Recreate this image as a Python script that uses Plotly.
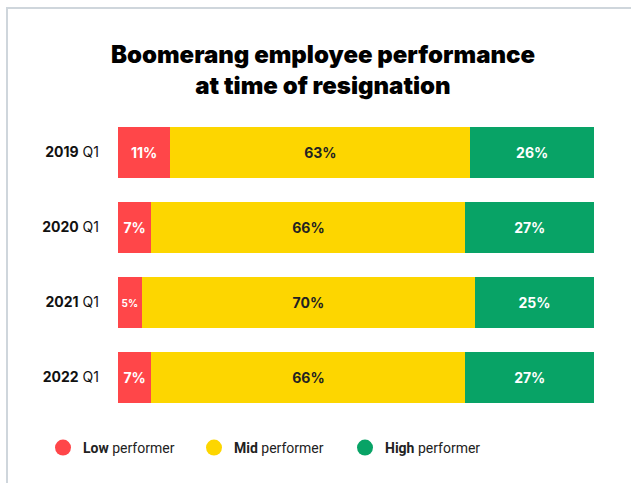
import plotly.graph_objects as go

years = ["2019", "2020", "2021", "2022"]
quarters = ["Q1", "Q1", "Q1", "Q1"]
low = [11, 7, 5, 7]
mid = [63, 66, 70, 66]
high = [26, 27, 25, 27]
series_names = ["Low", "Mid", "High"]
colors = ["#FF4649", "#FDD600", "#08A366"]

cats = [f"{y} {q}" for y, q in zip(years, quarters)]
ticktext = [f"<b>{y}</b> {q}" for y, q in zip(years, quarters)]

W, H = 631, 483
ML, MR, MT, MB = 118, 37, 115, 68
PW, PH = W - ML - MR, H - MT - MB

fig = go.Figure()
label_colors = ["#FFFFFF", "#222222", "#FFFFFF"]
for name, vals, col, lc in zip(series_names, [low, mid, high], colors, label_colors):
    sizes = [10 if v <= 5 else 14 for v in vals]
    fig.add_trace(go.Bar(
        y=cats, x=vals, orientation="h", name=name,
        marker=dict(color=col, line=dict(width=0)),
        text=[f"{v}%" for v in vals], textposition="inside",
        insidetextanchor="middle", textangle=0, constraintext="none",
        textfont=dict(family="Inter", size=sizes, color=lc, weight=700),
        showlegend=False, hoverinfo="skip", width=0.68,
    ))

for name, col in zip(series_names, colors):
    fig.add_trace(go.Scatter(
        x=[None], y=[None], mode="markers", name=f"<b>{name}</b> performer",
        marker=dict(color=col, size=16, symbol="circle"), hoverinfo="skip",
    ))

def px_x(px):
    return (px - ML) / PW

def px_y(py):
    return (H - MB - py) / PH

fig.add_shape(type="rect", xref="paper", yref="paper",
              x0=px_x(7), x1=px_x(660), y0=px_y(510), y1=px_y(8),
              line=dict(color="#CFD6DC", width=2), fillcolor="rgba(0,0,0,0)", layer="below")

fig.update_layout(
    width=W, height=H,
    margin=dict(l=ML, r=MR, t=MT, b=MB, pad=0),
    paper_bgcolor="white", plot_bgcolor="white",
    barmode="stack", bargap=0.32,
    title=dict(text="Boomerang employee performance<br>at time of resignation",
               x=323 / W, xanchor="center", y=1 - 63 / H, yanchor="top",
               font=dict(family="Inter", size=24, color="#000000", weight=900)),
    xaxis=dict(range=[0, 100], visible=False, fixedrange=True),
    yaxis=dict(autorange="reversed", tickvals=cats, ticktext=ticktext,
               showgrid=False, zeroline=False, showline=False, ticks="",
               ticklabelstandoff=18,
               tickfont=dict(family="Inter", size=14, color="#111111")),
    legend=dict(orientation="h", x=px_x(43), xanchor="left", y=px_y(448), yanchor="middle",
                entrywidth=106, entrywidthmode="pixels", itemsizing="trace",
                traceorder="normal",
                font=dict(family="Roboto", size=14, color="#222222"),
                bgcolor="rgba(0,0,0,0)", borderwidth=0),
    font=dict(family="Inter"),
)

fig.write_html("out.html", config={"displayModeBar": False},
               post_script="document.body.style.margin='0';document.body.style.overflow='hidden';")
